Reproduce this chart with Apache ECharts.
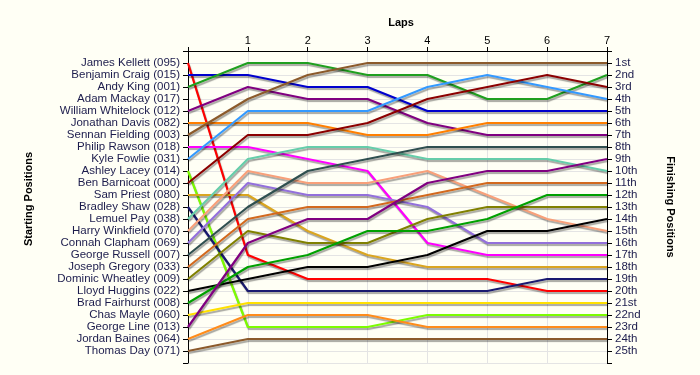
<!DOCTYPE html>
<html>
<head>
<meta charset="utf-8">
<script src="https://cdn.jsdelivr.net/npm/echarts@6/dist/echarts.min.js"></script>
<style>
html,body{margin:0;padding:0;background:#fffff5;}
#chart{width:700px;height:375px;}
</style>
</head>
<body>
<div id="chart"></div>
<script>
// Laps 0..7 (0 = start)
const laps = [0, 1, 2, 3, 4, 5, 6, 7];
const lapLabels = ['', '1', '2', '3', '4', '5', '6', '7'];
const drivers = [
  'James Kellett (095)', 'Benjamin Craig (015)', 'Andy King (001)', 'Adam Mackay (017)',
  'William Whitelock (012)', 'Jonathan Davis (082)', 'Sennan Fielding (003)', 'Philip Rawson (018)',
  'Kyle Fowlie (031)', 'Ashley Lacey (014)', 'Ben Barnicoat (000)', 'Sam Priest (080)',
  'Bradley Shaw (028)', 'Lemuel Pay (038)', 'Harry Winkfield (070)', 'Connah Clapham (069)',
  'George Russell (007)', 'Joseph Gregory (033)', 'Dominic Wheatley (009)', 'Lloyd Huggins (022)',
  'Brad Fairhurst (008)', 'Chas Mayle (060)', 'George Line (013)', 'Jordan Baines (064)',
  'Thomas Day (071)'
];
const finishLabels = ['1st','2nd','3rd','4th','5th','6th','7th','8th','9th','10th','11th','12th',
  '13th','14th','15th','16th','17th','18th','19th','20th','21st','22nd','23rd','24th','25th'];
const colors = ['#ff0000','#0000cd','#1f9f1f','#808080','#800080','#ff7f00','#8b5a2b','#ff00ff',
  '#3399ff','#7cfc00','#8b0000','#daa520','#191970','#66cdaa','#f8a07a','#9370db',
  '#2f4f4f','#d2691e','#808000','#000000','#00a000','#ffe000','#800080','#ff8c1a','#8b5a2b'];
// positions by lap (0..7) for each driver, null where no data
const positions = [
  [1, 17, 19, 19, 19, 19, 20, 20],
  [2, 2, 3, 3, 5, 5, 5, 5],
  [3, 1, 1, 2, 2, 4, 4, 2],
  [null, null, null, null, null, null, null, null],
  [5, 3, 4, 4, 6, 7, 7, 7],
  [6, 6, 6, 7, 7, 6, 6, 6],
  [7, 4, 2, 1, 1, 1, 1, 1],
  [8, 8, 9, 10, 16, 17, 17, 17],
  [9, 5, 5, 5, 3, 2, 3, 4],
  [10, 23, 23, 23, 22, 22, 22, 22],
  [11, 7, 7, 6, 4, 3, 2, 3],
  [12, 12, 15, 17, 18, 18, 18, 18],
  [13, 20, 20, 20, 20, 20, 19, 19],
  [14, 9, 8, 8, 9, 9, 9, 10],
  [15, 10, 11, 11, 10, 12, 14, 15],
  [16, 11, 12, 12, 13, 16, 16, 16],
  [17, 13, 10, 9, 8, 8, 8, 8],
  [18, 14, 13, 13, 12, 11, 11, 11],
  [19, 15, 16, 16, 14, 13, 13, 13],
  [20, 19, 18, 18, 17, 15, 15, 14],
  [21, 18, 17, 15, 15, 14, 12, 12],
  [22, 21, 21, 21, 21, 21, 21, 21],
  [23, 16, 14, 14, 11, 10, 10, 9],
  [24, 22, 22, 22, 23, 23, 23, 23],
  [25, 24, 24, 24, 24, 24, 24, 24]
];

const FONT = 'Liberation Sans, Arial, sans-serif';
const chart = echarts.init(document.getElementById('chart'), null, {renderer: 'canvas'});
const series = drivers.map((name, i) => ({
  name: name,
  type: 'line',
  yAxisIndex: 0,
  symbol: 'none',
  silent: true,
  animation: false,
  lineStyle: {
    width: 2.2, color: colors[i],
    shadowColor: 'rgba(0,0,0,0.35)', shadowBlur: 1, shadowOffsetX: 1, shadowOffsetY: 2
  },
  itemStyle: {color: colors[i]},
  data: laps.map((l, k) => positions[i][k] == null ? [l, null] : [l, positions[i][k]])
}));

const yCommon = {
  type: 'value', min: 0, max: 26, interval: 1, inverse: true,
  axisLine: {show: true, lineStyle: {color: '#000', width: 1}},
  axisTick: {show: true, length: 5, lineStyle: {color: '#000'}},
  splitLine: {show: true, lineStyle: {color: '#e4e4e4', width: 1}},
};

chart.setOption({
  backgroundColor: '#fffff5',
  animation: false,
  grid: {left: 188, right: 93, top: 51, bottom: 12},
  title: {
    text: 'Laps', left: 396, top: 12, textAlign: 'center',
    textStyle: {fontFamily: FONT, fontSize: 11, fontWeight: 'bold', color: '#000'}
  },
  graphic: [
    {type: 'text', x: 29, y: 199, rotation: Math.PI / 2,
     style: {text: 'Starting Positions', font: 'bold 11px ' + FONT, fill: '#000',
             align: 'center', verticalAlign: 'middle'}},
  ],
  xAxis: {
    type: 'value', min: 0, max: 7, interval: 1, position: 'top',
    axisLine: {show: true, onZero: false, lineStyle: {color: '#000'}},
    axisTick: {show: true, length: 4, lineStyle: {color: '#000'}},
    axisLabel: {
      formatter: v => lapLabels[v] || '', margin: 5,
      fontFamily: FONT, fontSize: 11, color: '#000'
    },
    splitLine: {show: true, lineStyle: {color: '#e4e4e4'}}
  },
  yAxis: [
    Object.assign({}, yCommon, {
      position: 'left',
      axisLabel: {
        formatter: v => drivers[v - 1] || '', margin: 8,
        fontFamily: FONT, fontSize: 11.5, color: '#1c1c4c'
      }
    }),
    Object.assign({}, yCommon, {
      position: 'right',
      name: 'Finishing Positions', nameLocation: 'middle', nameRotate: -90, nameGap: 58,
      nameTextStyle: {fontFamily: FONT, fontSize: 11, fontWeight: 'bold', color: '#000'},
      splitLine: {show: false},
      axisLabel: {
        formatter: v => finishLabels[v - 1] || '', margin: 8,
        fontFamily: FONT, fontSize: 11.5, color: '#1c1c4c'
      }
    })
  ],
  series: series
});
</script>
</body>
</html>
